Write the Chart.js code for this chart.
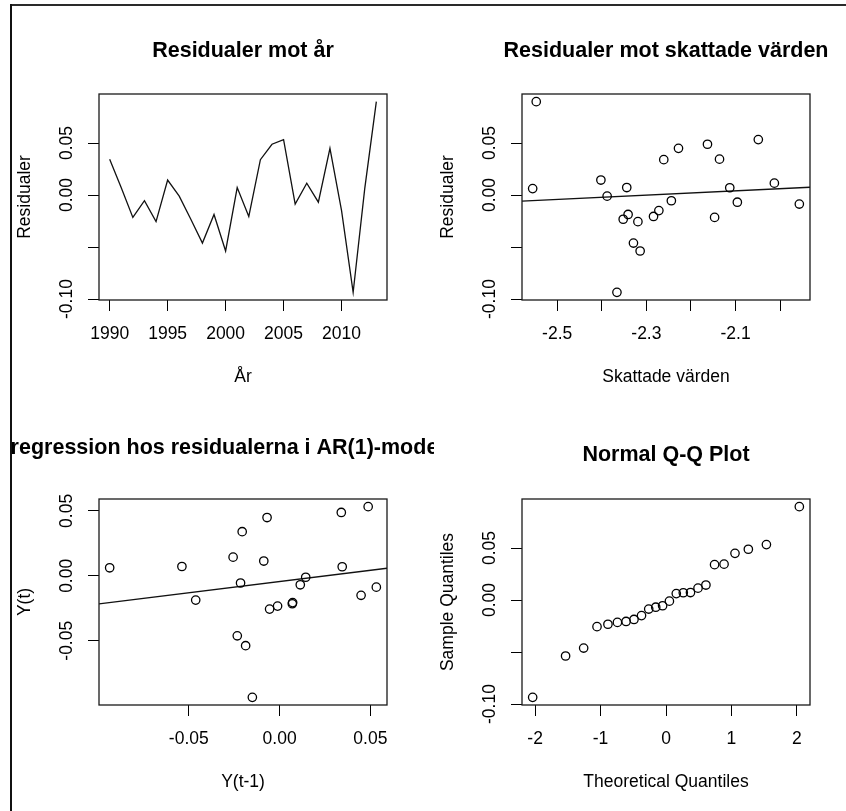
<!DOCTYPE html>
<html><head><meta charset="utf-8">
<script src="https://cdn.jsdelivr.net/npm/chart.js@4.4.1/dist/chart.umd.min.js"></script>
<style>
html,body{margin:0;padding:0;background:#fff;overflow:hidden;width:846px;height:811px;position:relative;}
.cell{position:absolute;width:423px;height:405px;overflow:hidden;}
.cell canvas{position:absolute;left:-20px;top:0;}
.frameTop{position:absolute;left:10px;top:4px;width:836px;height:2px;background:#2a2a2a;}
.frameLeft{position:absolute;left:10px;top:4px;width:2px;height:807px;background:#111;}
</style></head><body>
<div class="cell" style="left:11px;top:5px"><canvas id="c1" width="504" height="405" style="width:504px;height:405px"></canvas></div>
<div class="cell" style="left:434px;top:5px"><canvas id="c2" width="504" height="405" style="width:504px;height:405px"></canvas></div>
<div class="cell" style="left:11px;top:410px"><canvas id="c3" width="504" height="405" style="width:504px;height:405px"></canvas></div>
<div class="cell" style="left:434px;top:410px"><canvas id="c4" width="504" height="405" style="width:504px;height:405px"></canvas></div>
<div class="frameTop"></div><div class="frameLeft"></div>
<script>
// ---------- data ----------
const years = [1990,1991,1992,1993,1994,1995,1996,1997,1998,1999,2000,2001,2002,2003,2004,2005,2006,2007,2008,2009,2010,2011,2012,2013];
const residuals = [0.0345,0.0070,-0.0215,-0.0055,-0.0256,0.0144,-0.0011,-0.0233,-0.0462,-0.0187,-0.0538,0.0072,-0.0206,0.0340,0.0488,0.0533,-0.0087,0.0114,-0.0069,0.0449,-0.0150,-0.0936,0.0062,0.0898];
const fittedValues = [-2.136,-2.113,-2.147,-2.244,-2.319,-2.402,-2.388,-2.352,-2.329,-2.341,-2.314,-2.344,-2.284,-2.261,-2.163,-2.049,-1.957,-2.013,-2.096,-2.228,-2.272,-2.366,-2.555,-2.547];
const theoreticalQuantiles = [-2.037,-1.534,-1.258,-1.054,-0.887,-0.742,-0.610,-0.489,-0.374,-0.264,-0.157,-0.052,0.052,0.157,0.264,0.374,0.489,0.610,0.742,0.887,1.054,1.258,1.534,2.037];
const fittedLineCoef = [0.0477, 0.0208];   // intercept, slope (residual ~ fitted)
const lagLineCoef = [-0.0044, 0.173];      // intercept, slope (Y(t) ~ Y(t-1))

const yearTicks = [1990,1995,2000,2005,2010];
const yearTickLabels = ['1990','1995','2000','2005','2010'];
const residTicks = [-0.10,-0.05,0.00,0.05];
const residTickLabels = ['-0.10','','0.00','0.05'];
const fittedTicks = [-2.5,-2.4,-2.3,-2.2,-2.1,-2.0];
const fittedTickLabels = ['-2.5','','-2.3','','-2.1',''];
const lagTicks = [-0.05,0.00,0.05];
const lagTickLabels = ['-0.05','0.00','0.05'];
const quantTicks = [-2,-1,0,1,2];
const quantTickLabels = ['-2','-1','0','1','2'];

// ---------- helpers ----------
Chart.defaults.font.family = '"Liberation Sans", Arial, Helvetica, sans-serif';
Chart.defaults.color = '#000';

function rRange(arr){ // R default axis extension of 4%
  const mn = Math.min(...arr), mx = Math.max(...arr), d = (mx-mn)*0.04;
  return [mn-d, mx+d];
}
const boxPlugin = {id:'rbox', afterDatasetsDraw(chart){
  const {ctx, chartArea:a} = chart; ctx.save(); ctx.strokeStyle='#1a1a1a'; ctx.lineWidth=1.3;
  ctx.strokeRect(a.left, a.top, a.right-a.left, a.bottom-a.top); ctx.restore(); }};

const TICK_FONT = {size:17.5};
function axis(pos, range, ticks, labels, title, titlePad){
  const horiz = pos==='bottom';
  return {
    type:'linear', position:pos, min:range[0], max:range[1], bounds:'data',
    afterBuildTicks: s => { s.ticks = ticks.map(v => ({value:v})); },
    afterFit: s => { if (horiz) s.height = 110; else s.width = 108; },
    ticks:{autoSkip:false, font:TICK_FONT, color:'#000',
      minRotation: horiz?0:90, maxRotation: horiz?0:90,
      crossAlign: horiz?'near':'center', padding: horiz?12.3:0.5,
      callback:(v,i)=>labels[i]},
    grid:{display:true, drawOnChartArea:false, drawTicks:true, tickLength:11, color:'#000', lineWidth:1},
    border:{display:false},
    title:{display:true, text:title, font:{size:17.5}, color:'#000', padding: titlePad}
  };
}
function makeChart(id, title, titlePad, datasets, xs, ys){
  return new Chart(document.getElementById(id), {
    type:'scatter',
    data:{datasets},
    options:{
      responsive:false, animation:false, events:[],
      layout:{padding:0, autoPadding:false},
      plugins:{legend:{display:false}, tooltip:{enabled:false},
        title:{display:true, text:title, color:'#000', font:{size:21.5, weight:'bold'}, padding:titlePad}},
      scales:{
        x: xs, y: ys,
        yR:{type:'linear', position:'right', display:true, afterFit:s=>{s.width=108;},
            ticks:{display:false}, grid:{display:false}, border:{display:false}}
      }
    },
    plugins:[boxPlugin]
  });
}
const pointDs = pts => ({data:pts, showLine:false, pointRadius:4.2, pointBorderWidth:1.3,
  pointBorderColor:'#000', pointBackgroundColor:'rgba(0,0,0,0)', pointStyle:'circle'});
const lineDs = pts => ({data:pts, showLine:true, pointRadius:0, borderColor:'#111', borderWidth:1.3, tension:0});

const xPad = {top:0,bottom:22.3}, yPad = {top:24.1,bottom:0};

// Panel 1: residuals vs year
const r1x = rRange(years), r1y = rRange(residuals);
makeChart('c1', 'Residualer mot år', {top:33.6,bottom:29.6},
  [lineDs(years.map((y,i)=>({x:y, y:residuals[i]})))],
  axis('bottom', r1x, yearTicks, yearTickLabels, 'År', xPad),
  axis('left', r1y, residTicks, residTickLabels, 'Residualer', yPad));

// Panel 2: residuals vs fitted
const r2x = rRange(fittedValues);
makeChart('c2', 'Residualer mot skattade värden', {top:33.6,bottom:29.6},
  [pointDs(fittedValues.map((f,i)=>({x:f, y:residuals[i]}))),
   lineDs(r2x.map(x=>({x, y:fittedLineCoef[0]+fittedLineCoef[1]*x})))],
  axis('bottom', r2x, fittedTicks, fittedTickLabels, 'Skattade värden', xPad),
  axis('left', r1y, residTicks, residTickLabels, 'Residualer', yPad));

// Panel 3: lag regression
const lagX = residuals.slice(0,22), lagY = residuals.slice(1,23);
const r3x = rRange(lagX), r3y = rRange(lagY);
makeChart('c3', 'regression hos residualerna i AR(1)-modellen', {top:25.6,bottom:37.6},
  [pointDs(lagX.map((x,i)=>({x, y:lagY[i]}))),
   lineDs(r3x.map(x=>({x, y:lagLineCoef[0]+lagLineCoef[1]*x})))],
  axis('bottom', r3x, lagTicks, lagTickLabels, 'Y(t-1)', xPad),
  axis('left', r3y, lagTicks, lagTickLabels, 'Y(t)', yPad));

// Panel 4: normal Q-Q
const sampleQuantiles = residuals.slice().sort((a,b)=>a-b);
makeChart('c4', 'Normal Q-Q Plot', {top:32.3,bottom:30.9},
  [pointDs(theoreticalQuantiles.map((q,i)=>({x:q, y:sampleQuantiles[i]})))],
  axis('bottom', rRange(theoreticalQuantiles), quantTicks, quantTickLabels, 'Theoretical Quantiles', xPad),
  axis('left', rRange(sampleQuantiles), residTicks, residTickLabels, 'Sample Quantiles', yPad));
</script>
</body></html>
